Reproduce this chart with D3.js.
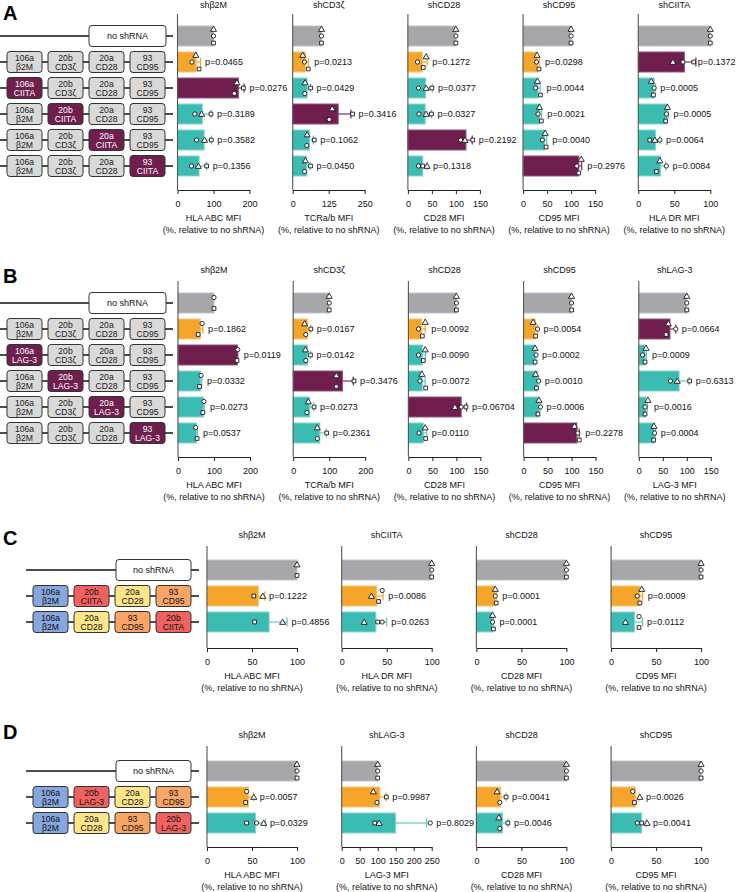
<!DOCTYPE html>
<html><head><meta charset="utf-8">
<script src="https://cdn.jsdelivr.net/npm/d3@7"></script>
<style>body{margin:0;background:#fff}svg{display:block}</style>
</head><body><svg id="chart" width="736" height="892"></svg>
<script>
// ---------------- DATA ----------------
// Panel A
const A_constructs = [
  ["no shRNA"],
  ["106a|β2M","20b|CD3ζ","20a|CD28","93|CD95"],
  ["106a|CIITA","20b|CD3ζ","20a|CD28","93|CD95"],
  ["106a|β2M","20b|CIITA","20a|CD28","93|CD95"],
  ["106a|β2M","20b|CD3ζ","20a|CIITA","93|CD95"],
  ["106a|β2M","20b|CD3ζ","20a|CD28","93|CIITA"]
];
const A_titles = ["shβ2M","shCD3ζ","shCD28","shCD95","shCIITA"];
const A_axisTitles = ["HLA ABC MFI","TCRa/b MFI","CD28 MFI","CD95 MFI","HLA DR MFI"];
const A_ticks = [[0,100,200],[0,125,250],[0,50,100,150],[0,50,100,150],[0,50,100]];
const A_groups = [
  ["gray","orange","purple","teal","teal","teal"],
  ["gray","orange","teal","purple","teal","teal"],
  ["gray","orange","teal","teal","purple","teal"],
  ["gray","orange","teal","teal","teal","purple"],
  ["gray","purple","teal","teal","teal","teal"]
];
const A_mean = [
  [100, 52, 169, 69, 74, 60],
  [100, 44, 50, 158, 58, 49],
  [100, 30, 37, 36, 121, 31],
  [100, 30, 31, 35, 45, 116],
  [100, 64, 22, 40, 24, 31]
];
const A_sd = [
  [0, 12, 16, 24, 20, 21],
  [0, 10, 12, 44, 14, 11],
  [0, 10, 14, 13, 13, 9],
  [0, 3.5, 4.5, 3.5, 4, 6],
  [0, 16, 2, 1.5, 6, 7]
];
const A_tri = [
  [100, 51, 165, 67, 75, 58],
  [100, 35, 43, 137, 50, 44],
  [100, 38, 38, 38, 119, 40],
  [100, 29, 30, 34, 46, 121],
  [100, 48, 18, 40.5, 23, 30]
];
const A_circ = [
  [100, 40, 158, 48, 53, 39],
  [100, 41, 42, 127, 49, 41],
  [100, 20, 22, 23, 110, 22],
  [100, 28, 26, 31, 40, 112],
  [100, 62, 22, 39, 30, 39]
];
const A_sq = [
  [100, 60, 183, 93, 94, 81],
  [100, 54, 62, 208, 75, 62],
  [100, 32, 50, 49, 135, 31],
  [100, 33, 36, 38, 48, 116],
  [100, 77, 21, 38, 16, 25]
];
const A_p = [
  [null,"p=0.0465","p=0.0276","p=0.3189","p=0.3582","p=0.1356"],
  [null,"p=0.0213","p=0.0429","p=0.3416","p=0.1062","p=0.0450"],
  [null,"p=0.1272","p=0.0377","p=0.0327","p=0.2192","p=0.1318"],
  [null,"p=0.0298","p=0.0044","p=0.0021","p=0.0040","p=0.2976"],
  [null,"p=0.1372","p=0.0005","p=0.0005","p=0.0064","p=0.0084"]
];

// Panel B
const B_constructs = [
  ["no shRNA"],
  ["106a|β2M","20b|CD3ζ","20a|CD28","93|CD95"],
  ["106a|LAG-3","20b|CD3ζ","20a|CD28","93|CD95"],
  ["106a|β2M","20b|LAG-3","20a|CD28","93|CD95"],
  ["106a|β2M","20b|CD3ζ","20a|LAG-3","93|CD95"],
  ["106a|β2M","20b|CD3ζ","20a|CD28","93|LAG-3"]
];
const B_titles = ["shβ2M","shCD3ζ","shCD28","shCD95","shLAG-3"];
const B_axisTitles = ["HLA ABC MFI","TCRa/b MFI","CD28 MFI","CD95 MFI","LAG-3 MFI"];
const B_ticks = [[0,100,200],[0,100,200],[0,50,100,150],[0,50,100,150],[0,50,100,150]];
const B_groups = [
  ["gray","orange","purple","teal","teal","teal"],
  ["gray","orange","teal","purple","teal","teal"],
  ["gray","orange","teal","teal","purple","teal"],
  ["gray","orange","teal","teal","teal","purple"],
  ["gray","purple","teal","teal","teal","teal"]
];
const B_mean = [
  [100, 62, 165, 63, 71, 51],
  [100, 40, 40, 137, 46, 74],
  [100, 28, 29, 29, 110, 31],
  [100, 25, 24.5, 29, 32, 111],
  [100, 65, 13, 84, 15, 33]
];
const B_sd = [
  [0, 7, 1, 3, 2, 3],
  [0, 9, 8, 30, 11, 18],
  [0, 7, 7, 6, 11, 7],
  [0, 4, 1, 3, 2.5, 5],
  [0, 12, 3, 21, 3, 1.5]
];
const B_tri = [
  [null, null, null, null, null, null],
  [100, 32, 34, 120, 42, 67],
  [100, 35, 35, 28, 97, 35],
  [100, 20, 24, 25, 32, 106],
  [100, 61.5, 15, 80, 19, 31.5]
];
const B_circ = [
  [100, 67, 166, 64, 72, 49],
  [100, 35, 35, 120, 38, 67],
  [100, 21, 21, 24, 110, 22],
  [100, 29, 26, 31.5, 35, 113],
  [100, 77, 8, 66, 13, 33]
];
const B_sq = [
  [100, 56, 164, 60, 69, 53],
  [100, 49, 48, 169, 58, 93],
  [100, 29, 31, 36, 120, 36],
  [100, 25, 24, 27, 30, 116],
  [100, 57, 13, 106, 13, 31]
];
const B_p = [
  [null,"p=0.1862","p=0.0119","p=0.0332","p=0.0273","p=0.0537"],
  [null,"p=0.0167","p=0.0142","p=0.3476","p=0.0273","p=0.2361"],
  [null,"p=0.0092","p=0.0090","p=0.0072","p=0.06704","p=0.0110"],
  [null,"p=0.0054","p=0.0002","p=0.0010","p=0.0006","p=0.2278"],
  [null,"p=0.0664","p=0.0009","p=0.6313","p=0.0016","p=0.0004"]
];

// Panel C
const C_constructs = [
  ["no shRNA"],
  ["106a|β2M","20b|CIITA","20a|CD28","93|CD95"],
  ["106a|β2M","20a|CD28","93|CD95","20b|CIITA"]
];
const C_titles = ["shβ2M","shCIITA","shCD28","shCD95"];
const C_axisTitles = ["HLA ABC MFI","HLA DR MFI","CD28 MFI","CD95 MFI"];
const C_ticks = [[0,50,100],[0,50,100],[0,50,100],[0,50,100]];
const C_groups = [
  ["gray","orange","teal"],["gray","orange","teal"],["gray","orange","teal"],["gray","orange","teal"]
];
const C_mean = [[100,57,69],[100,39,38],[100,21,18],[100,32,26]];
const C_sd = [[0,7,20],[0,7,12],[0,1,1],[0,3,9]];
const C_tri = [[100,62,84],[100,33,25],[100,21,18],[100,34,16]];
const C_circ = [[null,null,null],[100,45,45],[100,21,18],[100,29,31]];
const C_sq = [[100,52,53],[100,41,40],[100,22,19],[100,32,31]];
const C_p = [
  [null,"p=0.1222","p=0.4856"],
  [null,"p=0.0086","p=0.0263"],
  [null,"p=0.0001","p=0.0001"],
  [null,"p=0.0009","p=0.0112"]
];

// Panel D
const D_constructs = [
  ["no shRNA"],
  ["106a|β2M","20b|LAG-3","20a|CD28","93|CD95"],
  ["106a|β2M","20a|CD28","93|CD95","20b|LAG-3"]
];
const D_titles = ["shβ2M","shLAG-3","shCD28","shCD95"];
const D_axisTitles = ["HLA ABC MFI","LAG-3 MFI","CD28 MFI","CD95 MFI"];
const D_ticks = [[0,50,100],[0,50,100,150,200,250],[0,50,100],[0,50,100]];
const D_groups = [
  ["gray","orange","teal"],["gray","orange","teal"],["gray","orange","teal"],["gray","orange","teal"]
];
const D_mean = [[100,46,54],[100,106,150],[100,27,29],[100,27,34]];
const D_sd = [[0,6,11],[0,17,86],[0,6,6],[0,4,5]];
const D_tri = [[100,52,63],[100,88,104],[100,23,25],[100,32,40]];
const D_circ = [[100,44,55],[100,98,246],[100,26,26],[100,24,29]];
const D_sq = [[100,43,44],[100,124,92],[100,33,35],[100,26,34]];
const D_p = [
  [null,"p=0.0057","p=0.0329"],
  [null,"p=0.9987","p=0.8029"],
  [null,"p=0.0041","p=0.0046"],
  [null,"p=0.0026","p=0.0041"]
];

// ---------------- STYLE / LAYOUT ----------------
const FONT = '"Liberation Sans", Arial, Helvetica, sans-serif';
const barFill = {gray:"#a7a6aa", orange:"#f5a52a", purple:"#6f1e4e", teal:"#3bbcb2"};
const barEdge = {gray:"#c4c3c6", orange:"#f8c470", purple:"#94557e", teal:"#86d5cd"};
const errCol  = {gray:"#a7a6aa", orange:"#f5a52a", purple:"#7d2d5d", teal:"#5ec8bf"};
const geneFill = {"β2M":"#87a7df","CIITA":"#f0625f","LAG-3":"#f0625f","CD28":"#fde58a","CD95":"#f9a566"};

const LA = {letterX:3, letterY:20, rowY0:36, rowDy:26, titleY:8, axisTop:14, axisBottom:190,
  chartX0:177.5, chartDx:115.2, chartW:72, lineX0:0, lineX1:173, boxX0:7, boxDx:41, boxW:35, boxH:21,
  noX:89, noW:77, style:"ab", hi:"CIITA"};
const LB = Object.assign({}, LA, {letterY:283, rowY0:303, titleY:273, axisTop:281, axisBottom:457, chartX0:178, hi:"LAG-3"});
const LC = {letterX:3, letterY:545, rowY0:570, rowDy:26, titleY:538, axisTop:546, axisBottom:648,
  chartX0:207, chartDx:134.7, chartW:90, lineX0:26, lineX1:199, boxX0:33, boxDx:41, boxW:35, boxH:21,
  noX:116, noW:75, style:"cd"};
const LD = Object.assign({}, LC, {letterY:739, rowY0:771, titleY:738, axisTop:746, axisBottom:847});

const svg = d3.select("#chart");
const symType = {tri:d3.symbolTriangle, circ:d3.symbolCircle, sq:d3.symbolSquare};
const symSize = {tri:16, circ:14, sq:14};
const order = ["tri","circ","sq"];
const W = 736;

function drawPanel(letter, P, L) {
  const g = svg.append("g").attr("font-family", FONT);
  g.append("text").attr("x", L.letterX).attr("y", L.letterY).attr("font-size", 20)
    .attr("font-weight", "bold").attr("fill", "#000").text(letter);

  const nRows = P.constructs.length;
  const yRow = d3.scalePoint().domain(d3.range(nRows)).range([L.rowY0, L.rowY0 + (nRows - 1) * L.rowDy]);
  const slotX = d3.scaleLinear().domain([0, 1]).range([L.boxX0, L.boxX0 + L.boxDx]);

  // construct diagrams
  P.constructs.forEach((row, i) => {
    const y = yRow(i);
    g.append("line").attr("x1", L.lineX0).attr("x2", L.lineX1).attr("y1", y).attr("y2", y)
      .attr("stroke", "#111").attr("stroke-width", 1.6);
    if (row.length === 1) {
      g.append("rect").attr("x", L.noX).attr("y", y - L.boxH / 2).attr("width", L.noW).attr("height", L.boxH)
        .attr("rx", 3).attr("fill", "#fff").attr("stroke", "#333").attr("stroke-width", 1);
      g.append("text").attr("x", L.noX + L.noW / 2).attr("y", y + 3.2).attr("text-anchor", "middle")
        .attr("font-size", 9).attr("fill", "#111").text(row[0]);
    } else {
      row.forEach((s, k) => {
        const [top, gene] = s.split("|");
        const x = slotX(k);
        let fill, tcol;
        if (L.style === "ab") {
          const hi = gene === L.hi;
          fill = hi ? "#6f1e4e" : "#d9d9d9"; tcol = hi ? "#fff" : "#222";
        } else { fill = geneFill[gene]; tcol = "#111"; }
        g.append("rect").attr("x", x).attr("y", y - L.boxH / 2).attr("width", L.boxW).attr("height", L.boxH)
          .attr("rx", 3).attr("fill", fill).attr("stroke", "#333").attr("stroke-width", 1);
        g.append("text").attr("x", x + L.boxW / 2).attr("y", y - 1.3).attr("text-anchor", "middle")
          .attr("font-size", 8.6).attr("fill", tcol).text(top);
        g.append("text").attr("x", x + L.boxW / 2).attr("y", y + 8.2).attr("text-anchor", "middle")
          .attr("font-size", 8.6).attr("fill", tcol).text(gene);
      });
    }
  });

  // charts
  P.titles.forEach((title, j) => {
    const ticks = P.ticks[j];
    const x0 = L.chartX0 + j * L.chartDx;
    const xs = d3.scaleLinear().domain([0, ticks[ticks.length - 1]]).range([x0, x0 + L.chartW]);
    const cg = g.append("g");
    cg.append("text").attr("x", x0 + L.chartW / 2).attr("y", L.titleY).attr("text-anchor", "middle")
      .attr("font-size", 9).attr("fill", "#111").text(title);

    const rows = d3.range(nRows).map(i => ({
      i, y: yRow(i), grp: P.groups[j][i], mean: P.mean[j][i], sd: P.sd[j][i],
      pts: order.map(k => ({k, v: P[k][j][i]})).filter(d => d.v !== null && d.v !== undefined),
      p: P.p[j][i]
    }));
    cg.selectAll("rect.bar").data(rows).join("rect").attr("class", "bar")
      .attr("x", xs(0)).attr("y", d => d.y - 10).attr("height", 20)
      .attr("width", d => xs(d.mean) - xs(0))
      .attr("fill", d => barFill[d.grp]).attr("stroke", d => barEdge[d.grp]).attr("stroke-width", 1);

    rows.filter(d => d.sd > 0).forEach(d => {
      const xe = xs(d.mean + d.sd);
      cg.append("line").attr("x1", xs(d.mean)).attr("x2", xe).attr("y1", d.y).attr("y2", d.y)
        .attr("stroke", errCol[d.grp]).attr("stroke-width", 1.2);
      cg.append("line").attr("x1", xe).attr("x2", xe).attr("y1", d.y - 4.5).attr("y2", d.y + 4.5)
        .attr("stroke", errCol[d.grp]).attr("stroke-width", 1.2);
    });

    rows.forEach(d => {
      const pts = d.pts.map(p => ({...p, x: xs(p.v)})).sort((a, b) => a.x - b.x);
      const clusters = [];
      pts.forEach(p => {
        const last = clusters[clusters.length - 1];
        if (last && p.x - last[last.length - 1].x < 4) last.push(p); else clusters.push([p]);
      });
      clusters.forEach(c => {
        c.sort((a, b) => order.indexOf(a.k) - order.indexOf(b.k));
        const offs = c.length === 1 ? [0] : c.length === 2 ? [-5.5, 5.5] : [-7, 0, 7];
        c.forEach((p, t) => { p.dy = offs[t]; });
      });
      pts.forEach(p => {
        cg.append("path").attr("d", d3.symbol().type(symType[p.k]).size(symSize[p.k])())
          .attr("transform", `translate(${p.x},${d.y + p.dy + (p.k === "tri" ? 0.6 : 0)})`)
          .attr("fill", "#fff").attr("stroke", "#1a1a1a").attr("stroke-width", 0.9);
      });
      if (d.p) {
        const maxPt = d3.max(pts, p => p.x) || xs(d.mean);
        let tx = Math.max(xs(d.mean) + 5, xs(d.mean + d.sd) + 4.5, maxPt + 6);
        const t = cg.append("text").attr("x", tx).attr("y", d.y + 3.2).attr("font-size", 9)
          .attr("fill", "#111").text(d.p);
        const w = t.node().getComputedTextLength();
        if (tx + w > W - 0.5) t.attr("x", W - 0.5 - w);
      }
    });

    cg.append("line").attr("x1", x0).attr("x2", x0).attr("y1", L.axisTop).attr("y2", L.axisBottom)
      .attr("stroke", "#555").attr("stroke-width", 1.1);
    const ax = cg.append("g").attr("transform", `translate(0,${L.axisBottom})`)
      .call(d3.axisBottom(xs).tickValues(ticks).tickSize(4).tickSizeOuter(0).tickFormat(d3.format("d")));
    ax.attr("font-family", FONT).attr("font-size", 9);
    ax.select(".domain").attr("stroke", "#222").attr("stroke-width", 1);
    ax.selectAll(".tick line").attr("stroke", "#222");
    ax.selectAll(".tick text").attr("fill", "#111").attr("y", 10.5);
    cg.append("text").attr("x", x0 + L.chartW / 2).attr("y", L.axisBottom + 31).attr("text-anchor", "middle")
      .attr("font-size", 9).attr("fill", "#111").text(P.axisTitles[j]);
    cg.append("text").attr("x", x0 + L.chartW / 2).attr("y", L.axisBottom + 42.5).attr("text-anchor", "middle")
      .attr("font-size", 9).attr("fill", "#111").text("(%, relative to no shRNA)");
  });
}

drawPanel("A", {constructs:A_constructs, titles:A_titles, axisTitles:A_axisTitles, ticks:A_ticks, groups:A_groups,
  mean:A_mean, sd:A_sd, tri:A_tri, circ:A_circ, sq:A_sq, p:A_p}, LA);
drawPanel("B", {constructs:B_constructs, titles:B_titles, axisTitles:B_axisTitles, ticks:B_ticks, groups:B_groups,
  mean:B_mean, sd:B_sd, tri:B_tri, circ:B_circ, sq:B_sq, p:B_p}, LB);
drawPanel("C", {constructs:C_constructs, titles:C_titles, axisTitles:C_axisTitles, ticks:C_ticks, groups:C_groups,
  mean:C_mean, sd:C_sd, tri:C_tri, circ:C_circ, sq:C_sq, p:C_p}, LC);
drawPanel("D", {constructs:D_constructs, titles:D_titles, axisTitles:D_axisTitles, ticks:D_ticks, groups:D_groups,
  mean:D_mean, sd:D_sd, tri:D_tri, circ:D_circ, sq:D_sq, p:D_p}, LD);
</script>
</body></html>
